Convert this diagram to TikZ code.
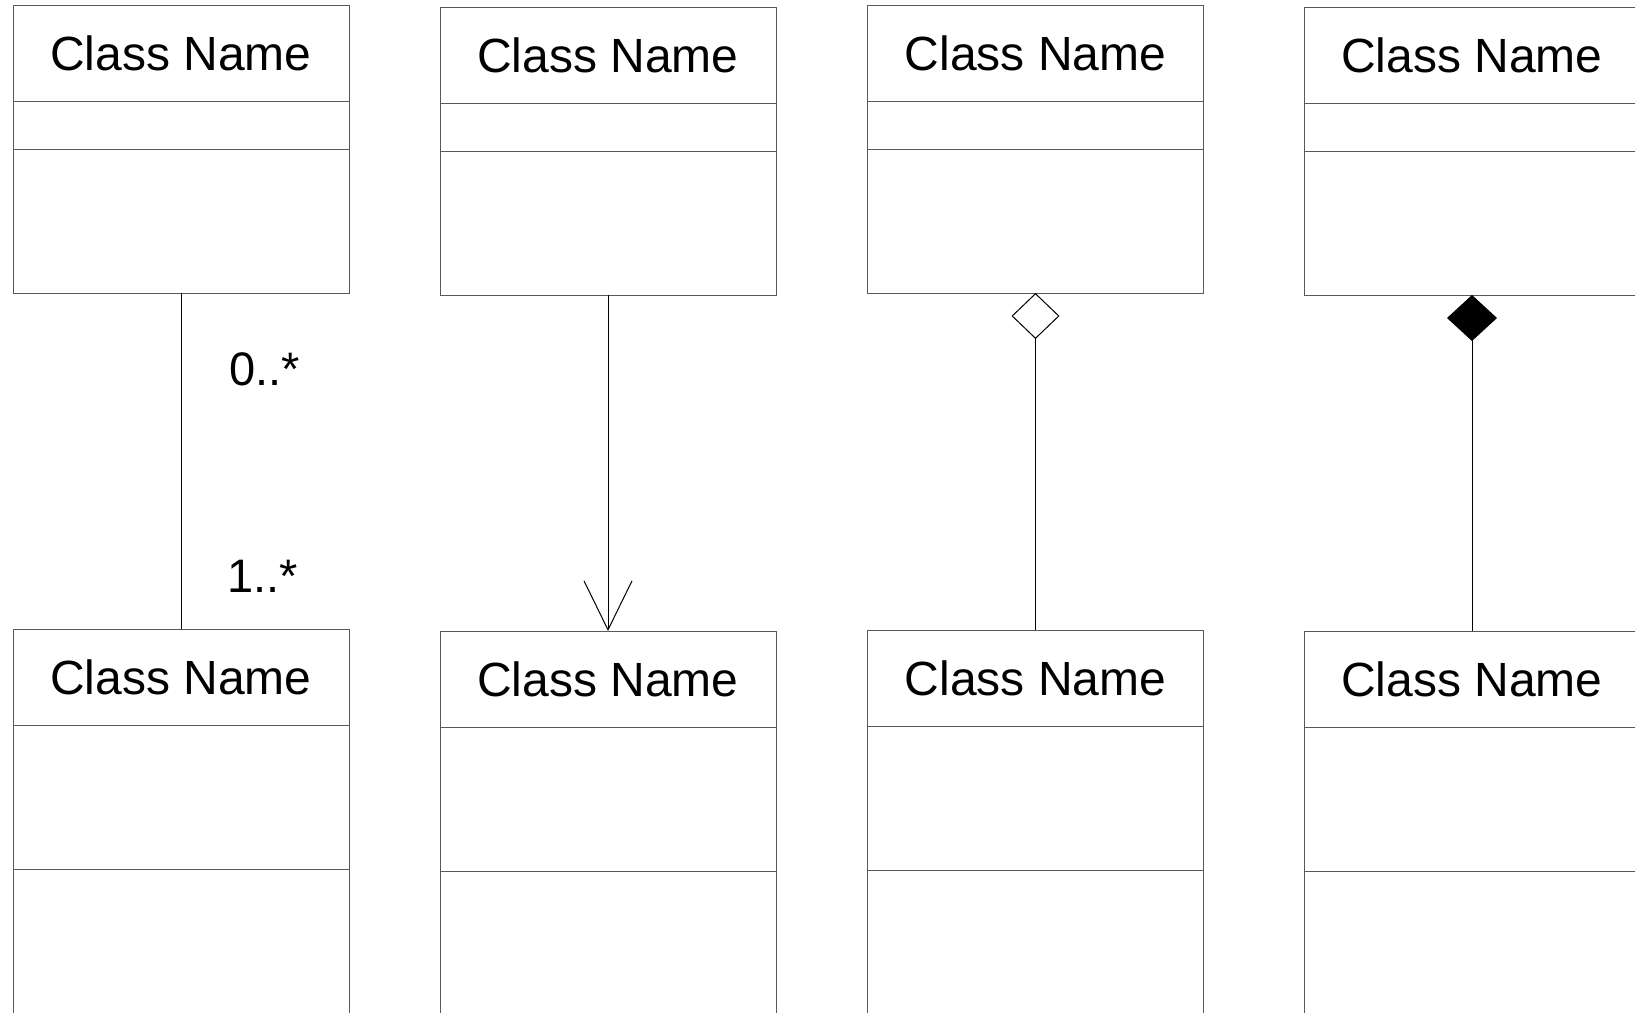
\documentclass[tikz,border=0pt]{standalone}
\usepackage{fontspec}
\setmainfont{Liberation Sans}
\usetikzlibrary{positioning,arrows.meta}

\begin{document}
\begin{tikzpicture}[
    x=0.5pt, y=-0.5pt,
    node distance=0pt,
    cname/.style={draw=black!65, line width=0.5pt, outer sep=0pt, inner sep=0pt, minimum width=168pt, minimum height=48pt, font=\fontsize{24pt}{28pt}\selectfont},
    cattr/.style={draw=black!65, line width=0.5pt, outer sep=0pt, minimum width=168pt, minimum height=24pt},
    cops/.style={draw=black!65, line width=0.5pt, outer sep=0pt, minimum width=168pt, minimum height=72pt},
    mult/.style={inner sep=0pt, font=\fontsize{23.5pt}{28pt}\selectfont},
    link/.style={draw=black, line width=0.5pt},
]
\useasboundingbox (0,0) rectangle (1635,1013);
\clip (0,0) rectangle (1635,1013);

% upper classes
\node[cname] (tN1) at (181,53) {Class Name};
\node[cattr, below=of tN1] (tA1) {};
\node[cops, below=of tA1] (tO1) {};
\node[cname] (tN2) at (608,55) {Class Name};
\node[cattr, below=of tN2] (tA2) {};
\node[cops, below=of tA2] (tO2) {};
\node[cname] (tN3) at (1035.5,53) {Class Name};
\node[cattr, below=of tN3] (tA3) {};
\node[cops, below=of tA3] (tO3) {};
\node[cname] (tN4) at (1472,55) {Class Name};
\node[cattr, below=of tN4] (tA4) {};
\node[cops, below=of tA4] (tO4) {};

% lower classes (cut by the page edge)
\node[cname] (bN1) at (181,677) {Class Name};
\node[cops, below=of bN1] (bA1) {};
\node[cops, below=of bA1, minimum height=90pt] (bO1) {};
\node[cname] (bN2) at (608,679) {Class Name};
\node[cops, below=of bN2] (bA2) {};
\node[cops, below=of bA2, minimum height=90pt] (bO2) {};
\node[cname] (bN3) at (1035.5,678) {Class Name};
\node[cops, below=of bN3] (bA3) {};
\node[cops, below=of bA3, minimum height=90pt] (bO3) {};
\node[cname] (bN4) at (1472,679) {Class Name};
\node[cops, below=of bN4] (bA4) {};
\node[cops, below=of bA4, minimum height=90pt] (bO4) {};

% association
\draw[link] (tO1.south) -- (bN1.north);
\node[mult, below right=29.5pt and 24pt of tO1.south] (m1) {0..*};
\node[mult, above right=18pt and 23pt of bN1.north] (m2) {1..*};

% directed association
\draw[link, -{Straight Barb[length=24.5pt, width=24pt]}] (tO2.south) -- (bN2.north);

% aggregation
\draw[link, {Diamond[open, length=23pt, width=24pt]}-] (tO3.south) -- (bN3.north);

% composition
\draw[link, {Diamond[length=23pt, width=25pt]}-] (tO4.south) -- (bN4.north);
\end{tikzpicture}
\end{document}
